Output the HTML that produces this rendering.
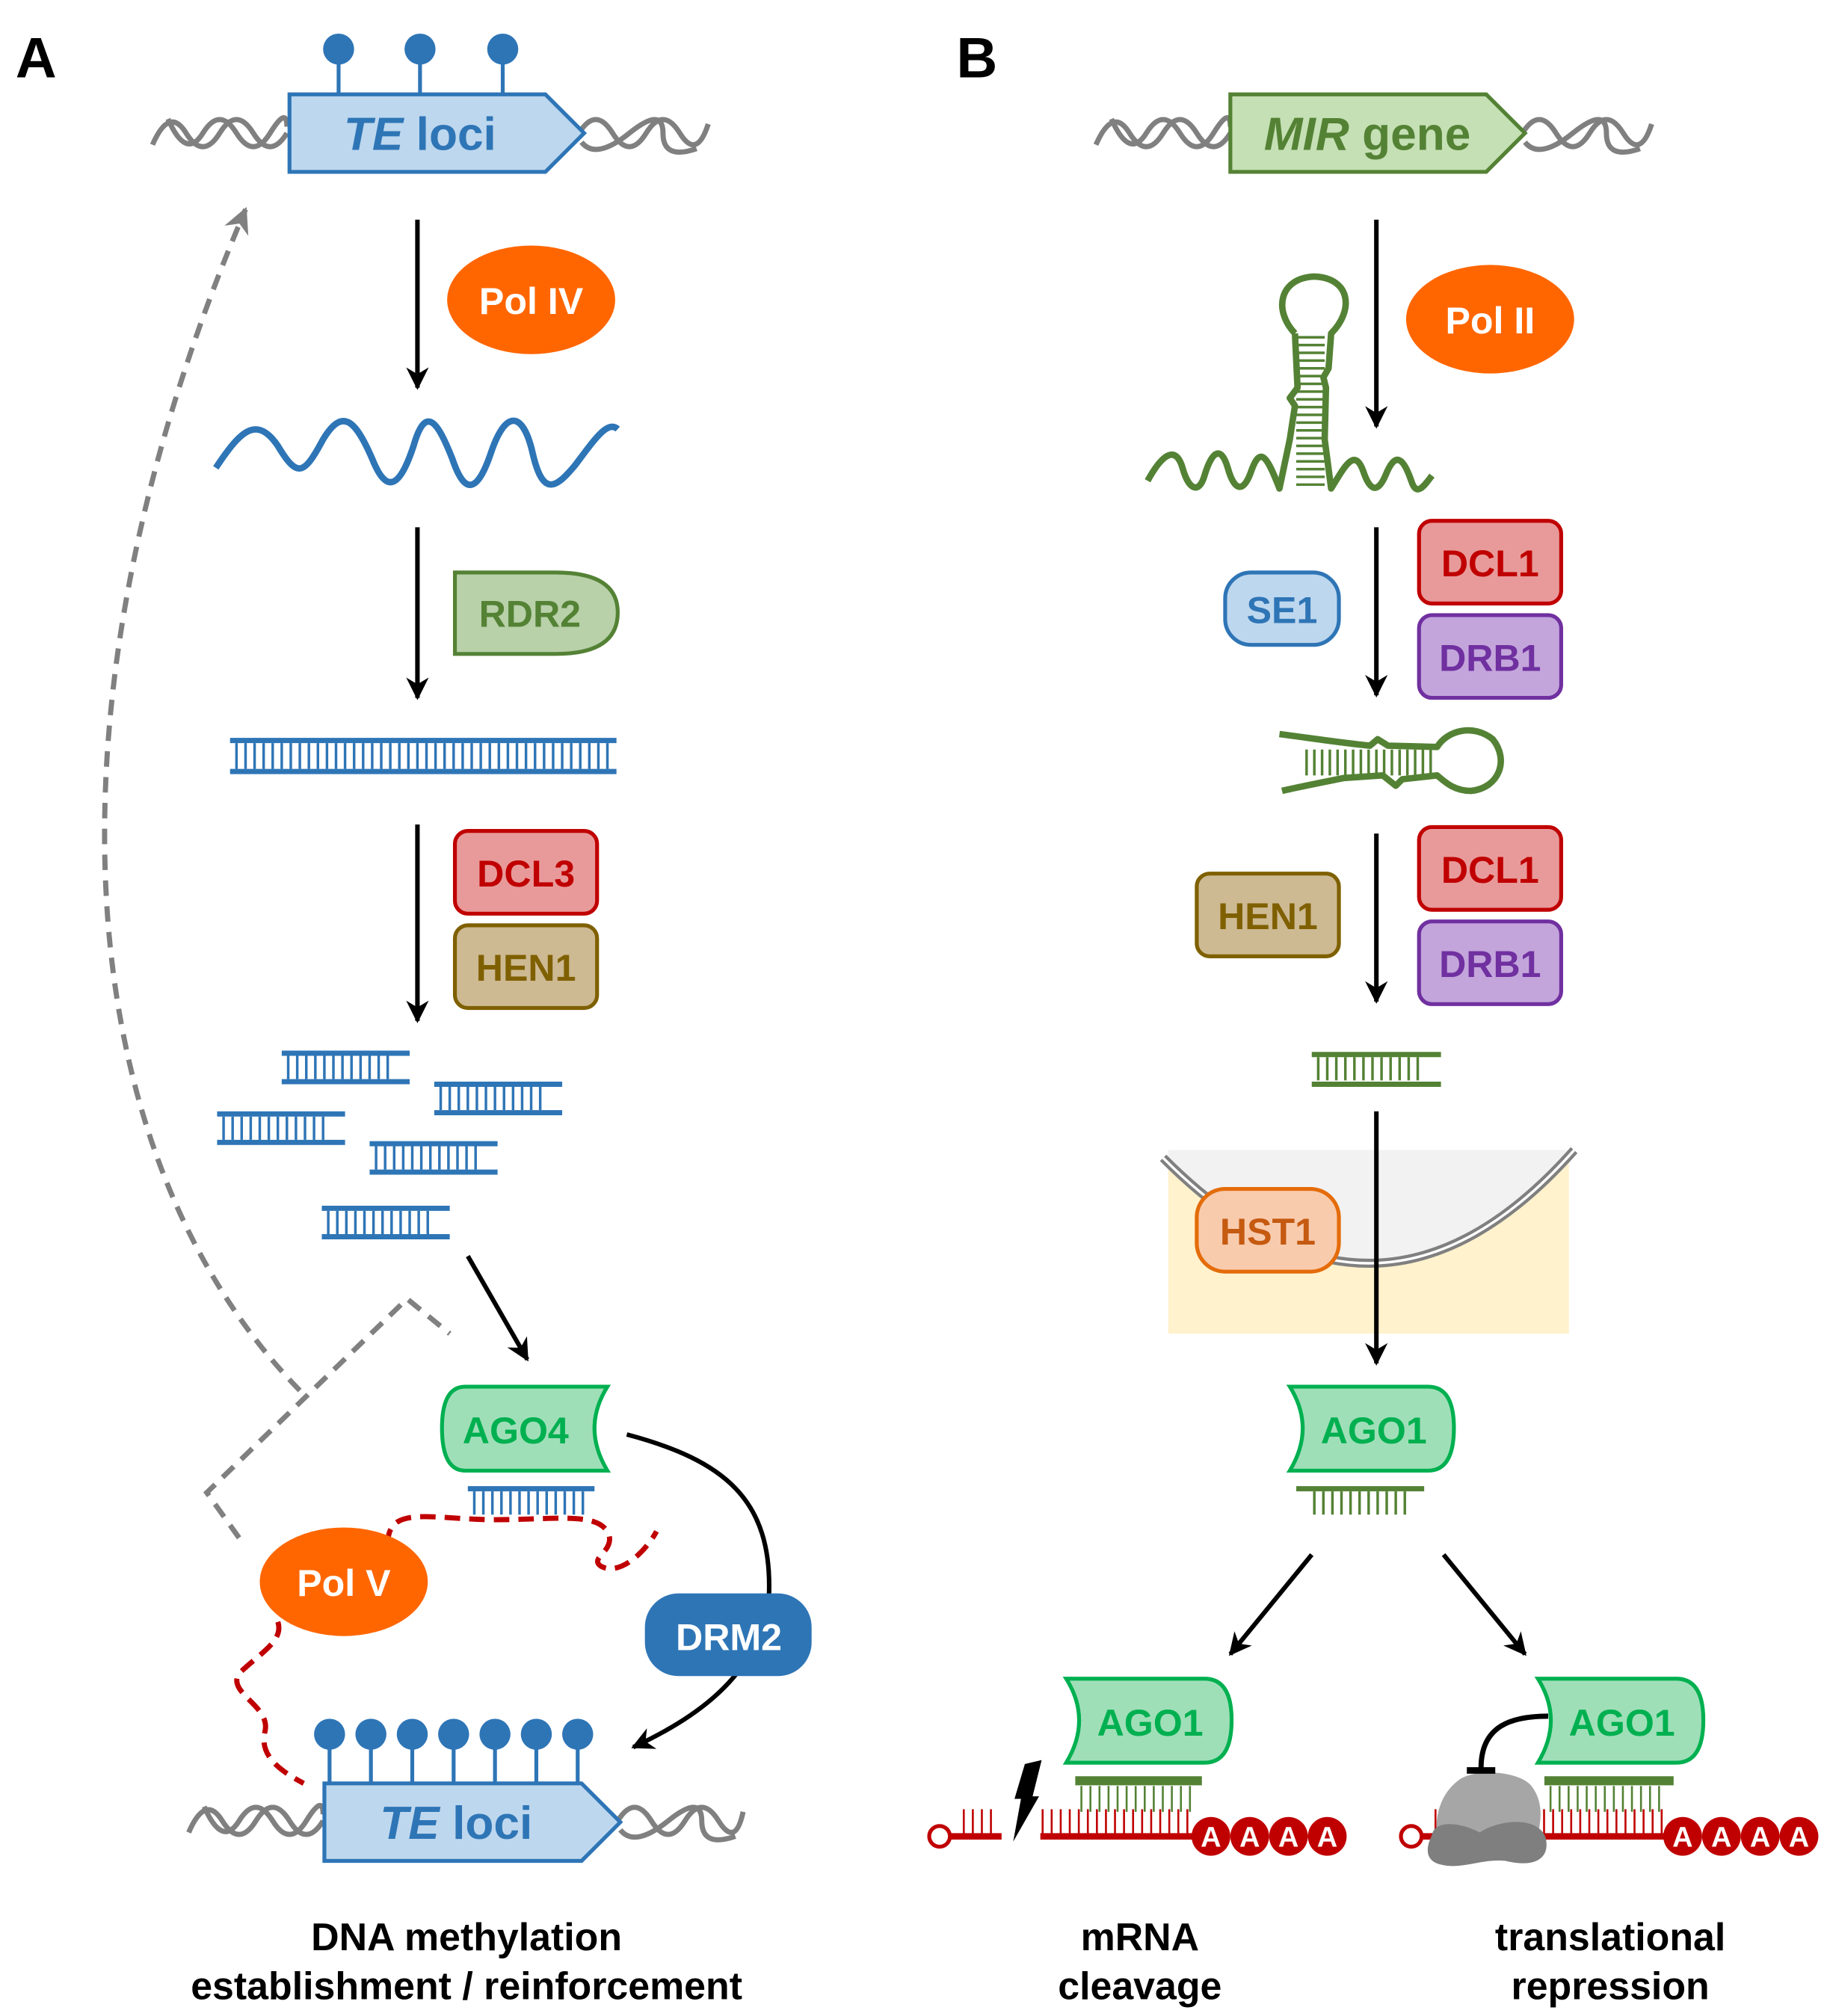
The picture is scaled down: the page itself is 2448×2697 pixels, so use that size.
<!DOCTYPE html>
<html><head><meta charset="utf-8"><style>
html,body{margin:0;padding:0;background:#fff}
svg{display:block}
text{font-family:"Liberation Sans",sans-serif;font-weight:bold}
</style></head><body>
<svg width="2448" height="2697" viewBox="0 0 1416 1560" xmlns="http://www.w3.org/2000/svg">
<defs>
<marker id="ah" viewBox="0 0 10 10" refX="9" refY="5" markerWidth="5" markerHeight="5" orient="auto"><path d="M0,0 L10,5 L0,10 L3,5 Z" fill="#000"/></marker>
<marker id="ahg" viewBox="0 0 10 10" refX="9" refY="5" markerWidth="5" markerHeight="5" orient="auto"><path d="M0,0 L10,5 L0,10 L3,5 Z" fill="#808080"/></marker>
</defs>
<rect width="1416" height="1560" fill="#fff"/>

<!-- ===== Panel A ===== -->
<text x="12" y="60" font-size="44">A</text>
<g stroke="#808080" stroke-width="4" fill="none">
<path d="M118,112 Q131,82 144,103 T170,103 T196,103 T222,103"/>
<path d="M130,92 Q144,124 157,103 T183,103 T209,103 T222,98"/>
<path d="M448,103 Q461,82 474,103 T500,103 T526,103 T548,96"/>
<path d="M450,110 Q461,124 487,103 T513,103 T539,115"/>
<path d="M146,1418 Q159,1388 172,1409 T198,1409 T224,1409 T250,1409"/>
<path d="M158,1398 Q172,1430 185,1409 T211,1409 T237,1409 T250,1404"/>
<path d="M478,1409 Q491,1388 504,1409 T530,1409 T556,1409 T575,1402"/>
<path d="M480,1416 Q491,1430 517,1409 T543,1409 T569,1421"/>
</g>
<g stroke="#2e75b6" stroke-width="3"><line x1="262" y1="40" x2="262" y2="73"/><line x1="325" y1="40" x2="325" y2="73"/><line x1="389" y1="40" x2="389" y2="73"/></g>
<g fill="#2e75b6"><circle cx="262" cy="38" r="12"/><circle cx="325" cy="38" r="12"/><circle cx="389" cy="38" r="12"/></g>
<polygon points="224,73 422,73 452,103 422,133 224,133" fill="#bdd7ee" stroke="#2e75b6" stroke-width="3"/>
<text x="325" y="116" font-size="36" fill="#2e75b6" text-anchor="middle" font-weight="normal"><tspan font-style="italic">TE</tspan> loci</text>

<g stroke="#000" stroke-width="3.5" marker-end="url(#ah)">
<line x1="323" y1="170" x2="323" y2="300"/>
<line x1="323" y1="408" x2="323" y2="540"/>
<line x1="323" y1="638" x2="323" y2="790"/>
<line x1="362" y1="972" x2="408" y2="1052"/>
</g>
<ellipse cx="411" cy="232" rx="65" ry="42" fill="#ff6600"/>
<text x="411" y="243" font-size="29" fill="#fff" text-anchor="middle">Pol IV</text>
<path d="M167,362 C185,335 198,320 215,345 C230,370 235,368 250,340 C265,315 275,325 288,355 C300,385 310,375 320,345 C330,310 340,330 350,355 C360,385 370,380 380,350 C392,315 405,320 412,350 C420,385 430,378 445,360 C460,340 470,325 478,332" fill="none" stroke="#2e75b6" stroke-width="5"/>
<path d="M352,443 L430,443 Q478,443 478,474 Q478,506 430,506 L352,506 Z" fill="#b8d1a9" stroke="#548235" stroke-width="3"/>
<text x="410" y="485" font-size="29" fill="#548235" text-anchor="middle">RDR2</text>
<g stroke="#2e75b6">
<line x1="178" y1="573" x2="477" y2="573" stroke-width="4"/>
<line x1="178" y1="597" x2="477" y2="597" stroke-width="4"/>
<line x1="182" y1="585" x2="474" y2="585" stroke-width="20" stroke-dasharray="2 5"/>
</g>
<rect x="352" y="643" width="110" height="64" rx="10" fill="#e89a9a" stroke="#c00000" stroke-width="3"/>
<text x="407" y="686" font-size="29" fill="#c00000" text-anchor="middle">DCL3</text>
<rect x="352" y="716" width="110" height="64" rx="10" fill="#cdb992" stroke="#7f6000" stroke-width="3"/>
<text x="407" y="759" font-size="29" fill="#7f6000" text-anchor="middle">HEN1</text>
<g stroke="#2e75b6">
<g transform="translate(218,815)"><line x1="0" y1="0" x2="99" y2="0" stroke-width="4"/><line x1="0" y1="22" x2="99" y2="22" stroke-width="4"/><line x1="4" y1="11" x2="84" y2="11" stroke-width="18" stroke-dasharray="2 5"/></g>
<g transform="translate(336,839)"><line x1="0" y1="0" x2="99" y2="0" stroke-width="4"/><line x1="0" y1="22" x2="99" y2="22" stroke-width="4"/><line x1="4" y1="11" x2="84" y2="11" stroke-width="18" stroke-dasharray="2 5"/></g>
<g transform="translate(168,862)"><line x1="0" y1="0" x2="99" y2="0" stroke-width="4"/><line x1="0" y1="22" x2="99" y2="22" stroke-width="4"/><line x1="4" y1="11" x2="84" y2="11" stroke-width="18" stroke-dasharray="2 5"/></g>
<g transform="translate(286,885)"><line x1="0" y1="0" x2="99" y2="0" stroke-width="4"/><line x1="0" y1="22" x2="99" y2="22" stroke-width="4"/><line x1="4" y1="11" x2="84" y2="11" stroke-width="18" stroke-dasharray="2 5"/></g>
<g transform="translate(249,935)"><line x1="0" y1="0" x2="99" y2="0" stroke-width="4"/><line x1="0" y1="22" x2="99" y2="22" stroke-width="4"/><line x1="4" y1="11" x2="84" y2="11" stroke-width="18" stroke-dasharray="2 5"/></g>
</g>
<g fill="none" stroke="#808080" stroke-width="4" stroke-dasharray="12 8">
<path d="M232,1076 C60,900 20,560 190,162" marker-end="url(#ahg)"/>
<path d="M185,1190 L160,1155 L315,1005 L348,1032"/>
</g>
<path d="M360,1073 L470,1073 Q450,1105 470,1138 L360,1138 Q342,1138 342,1105 Q342,1073 360,1073 Z" fill="#9fdfb8" stroke="#00b050" stroke-width="3"/>
<text x="399" y="1117" font-size="29" fill="#00b050" text-anchor="middle">AGO4</text>
<g stroke="#2e75b6"><line x1="362" y1="1152" x2="460" y2="1152" stroke-width="4"/><line x1="366" y1="1163" x2="456" y2="1163" stroke-width="18" stroke-dasharray="2 5"/></g>
<g fill="none" stroke="#c00000" stroke-width="4" stroke-dasharray="12 7">
<path d="M300,1195 C300,1165 330,1175 380,1176 C430,1176 460,1170 470,1185 C478,1200 455,1205 465,1212 C480,1220 500,1200 508,1185"/>
<path d="M215,1255 C220,1270 200,1280 185,1295 C175,1310 210,1320 205,1340 C200,1360 220,1372 235,1380"/>
</g>
<ellipse cx="266" cy="1224" rx="65" ry="42" fill="#ff6600"/>
<text x="266" y="1235" font-size="29" fill="#fff" text-anchor="middle">Pol V</text>
<path d="M485,1110 C560,1130 598,1160 595,1235" fill="none" stroke="#000" stroke-width="3.5"/>
<path d="M570,1295 C550,1320 520,1338 490,1352" fill="none" stroke="#000" stroke-width="3.5" marker-end="url(#ah)"/>
<rect x="499" y="1233" width="129" height="64" rx="26" fill="#2e75b6"/>
<text x="564" y="1277" font-size="29" fill="#fff" text-anchor="middle">DRM2</text>
<g stroke="#2e75b6" stroke-width="3">
<line x1="255" y1="1342" x2="255" y2="1380"/><line x1="287" y1="1342" x2="287" y2="1380"/><line x1="319" y1="1342" x2="319" y2="1380"/><line x1="351" y1="1342" x2="351" y2="1380"/><line x1="383" y1="1342" x2="383" y2="1380"/><line x1="415" y1="1342" x2="415" y2="1380"/><line x1="447" y1="1342" x2="447" y2="1380"/></g>
<g fill="#2e75b6"><circle cx="255" cy="1342" r="12"/><circle cx="287" cy="1342" r="12"/><circle cx="319" cy="1342" r="12"/><circle cx="351" cy="1342" r="12"/><circle cx="383" cy="1342" r="12"/><circle cx="415" cy="1342" r="12"/><circle cx="447" cy="1342" r="12"/></g>
<polygon points="251,1380 450,1380 480,1410 450,1440 251,1440" fill="#bdd7ee" stroke="#2e75b6" stroke-width="3"/>
<text x="353" y="1423" font-size="36" fill="#2e75b6" text-anchor="middle" font-weight="normal"><tspan font-style="italic">TE</tspan> loci</text>
<text x="361" y="1509" font-size="30" text-anchor="middle">DNA methylation</text>
<text x="361" y="1547" font-size="30" text-anchor="middle">establishment / reinforcement</text>

<!-- ===== Panel B ===== -->
<text x="740" y="60" font-size="44">B</text>
<g stroke="#808080" stroke-width="4" fill="none">
<path d="M848,112 Q861,82 874,103 T900,103 T926,103 T952,103"/>
<path d="M860,92 Q874,124 887,103 T913,103 T939,103 T952,98"/>
<path d="M1178,103 Q1191,82 1204,103 T1230,103 T1256,103 T1278,96"/>
<path d="M1180,110 Q1191,124 1217,103 T1243,103 T1269,115"/>
</g>
<polygon points="952,73 1150,73 1180,103 1150,133 952,133" fill="#c5e0b4" stroke="#548235" stroke-width="3"/>
<text x="1058" y="116" font-size="36" fill="#548235" text-anchor="middle" font-weight="normal"><tspan font-style="italic">MIR</tspan> gene</text>
<g stroke="#000" stroke-width="3.5" marker-end="url(#ah)">
<line x1="1065" y1="170" x2="1065" y2="330"/>
<line x1="1065" y1="408" x2="1065" y2="538"/>
<line x1="1065" y1="645" x2="1065" y2="775"/>
<line x1="1015" y1="1203" x2="952" y2="1280"/>
<line x1="1117" y1="1203" x2="1180" y2="1280"/>
</g>
<ellipse cx="1153" cy="247" rx="65" ry="42" fill="#ff6600"/>
<text x="1153" y="258" font-size="29" fill="#fff" text-anchor="middle">Pol II</text>
<g fill="none" stroke="#548235" stroke-width="5" stroke-linejoin="round">
<path d="M1002,258 C985,240 990,215 1017,214 C1045,215 1048,240 1030,258 L1028,285 L1024,292 L1026,300 L1025,340 L1030,378 C1040,362 1048,345 1055,365 C1060,380 1066,382 1072,368 C1080,348 1086,355 1092,372 C1096,385 1102,376 1108,368"/>
<path d="M1002,258 L1004,300 L998,308 L1002,314 L998,340 L990,378 C980,352 975,345 968,365 C962,382 955,380 950,362 C945,345 938,348 932,368 C928,382 920,380 915,362 C910,345 900,350 888,372"/>
</g>
<line x1="1014" y1="260" x2="1014" y2="376" stroke="#548235" stroke-width="22" stroke-dasharray="2 4"/>
<rect x="948" y="443" width="88" height="56" rx="20" fill="#bdd7ee" stroke="#2e75b6" stroke-width="3"/>
<text x="992" y="482" font-size="29" fill="#2e75b6" text-anchor="middle">SE1</text>
<rect x="1098" y="403" width="110" height="64" rx="10" fill="#e89a9a" stroke="#c00000" stroke-width="3"/>
<text x="1153" y="446" font-size="29" fill="#c00000" text-anchor="middle">DCL1</text>
<rect x="1098" y="476" width="110" height="64" rx="10" fill="#c3a5db" stroke="#7030a0" stroke-width="3"/>
<text x="1153" y="519" font-size="29" fill="#7030a0" text-anchor="middle">DRB1</text>
<g fill="none" stroke="#548235" stroke-width="5" stroke-linejoin="round">
<path d="M990,568 C1020,572 1040,575 1060,577 L1066,572 L1074,577 L1112,578 C1120,565 1140,560 1155,572 C1168,588 1160,610 1138,612 C1125,612 1118,605 1112,600 L1085,603 L1080,608 L1070,600 L1040,602 C1020,606 1000,610 992,612"/>
</g>
<line x1="1010" y1="590" x2="1110" y2="590" stroke="#548235" stroke-width="20" stroke-dasharray="2 4"/>
<rect x="926" y="676" width="110" height="64" rx="10" fill="#cdb992" stroke="#7f6000" stroke-width="3"/>
<text x="981" y="719" font-size="29" fill="#7f6000" text-anchor="middle">HEN1</text>
<rect x="1098" y="640" width="110" height="64" rx="10" fill="#e89a9a" stroke="#c00000" stroke-width="3"/>
<text x="1153" y="683" font-size="29" fill="#c00000" text-anchor="middle">DCL1</text>
<rect x="1098" y="713" width="110" height="64" rx="10" fill="#c3a5db" stroke="#7030a0" stroke-width="3"/>
<text x="1153" y="756" font-size="29" fill="#7030a0" text-anchor="middle">DRB1</text>
<g stroke="#548235"><line x1="1015" y1="816" x2="1115" y2="816" stroke-width="4"/><line x1="1015" y1="839" x2="1115" y2="839" stroke-width="4"/><line x1="1019" y1="827" x2="1100" y2="827" stroke-width="18" stroke-dasharray="2 5"/></g>
<rect x="904" y="890" width="310" height="142" fill="#fff2cc"/>
<path d="M904,890 L1214,890 L1214,895 Q1065,1060 904,895 Z" fill="#f2f2f2"/>
<path d="M900,896 Q1065,1062 1218,890" fill="none" stroke="#808080" stroke-width="7"/>
<path d="M900,896 Q1065,1062 1218,890" fill="none" stroke="#fff" stroke-width="2"/>
<line x1="1065" y1="860" x2="1065" y2="1055" stroke="#000" stroke-width="3.5" marker-end="url(#ah)"/>
<rect x="926" y="920" width="110" height="64" rx="22" fill="#f8cbad" stroke="#e46c0a" stroke-width="3"/>
<text x="981" y="963" font-size="29" fill="#c55a11" text-anchor="middle">HST1</text>
<path d="M998,1073 L1105,1073 Q1125,1073 1125,1105 Q1125,1138 1105,1138 L998,1138 Q1018,1105 998,1073 Z" fill="#9fdfb8" stroke="#00b050" stroke-width="3"/>
<text x="1063" y="1117" font-size="29" fill="#00b050" text-anchor="middle">AGO1</text>
<g stroke="#548235"><line x1="1003" y1="1152" x2="1102" y2="1152" stroke-width="4"/><line x1="1016" y1="1163" x2="1092" y2="1163" stroke-width="18" stroke-dasharray="2 5"/></g>
<path d="M825,1299 L932,1299 Q953,1299 953,1331 Q953,1364 932,1364 L825,1364 Q845,1331 825,1299 Z" fill="#9fdfb8" stroke="#00b050" stroke-width="3"/>
<text x="890" y="1343" font-size="29" fill="#00b050" text-anchor="middle">AGO1</text>
<line x1="832" y1="1378" x2="930" y2="1378" stroke="#548235" stroke-width="7"/>
<line x1="836" y1="1392" x2="925" y2="1392" stroke="#548235" stroke-width="20" stroke-dasharray="1.5 5.5"/>
<line x1="806" y1="1410" x2="925" y2="1410" stroke="#c00000" stroke-width="20" stroke-dasharray="1.5 5.5"/>
<line x1="745" y1="1410" x2="772" y2="1410" stroke="#c00000" stroke-width="20" stroke-dasharray="1.5 5.5"/>
<line x1="736" y1="1421" x2="775" y2="1421" stroke="#c00000" stroke-width="5"/>
<line x1="805" y1="1421" x2="935" y2="1421" stroke="#c00000" stroke-width="5"/>
<circle cx="727" cy="1421" r="8" fill="#fff" stroke="#c00000" stroke-width="3"/>
<polygon points="793,1365 806,1362 799,1390 804,1390 784,1425 790,1392 785,1392" fill="#000"/>
<g fill="#c00000"><circle cx="937" cy="1421" r="15"/><circle cx="967" cy="1421" r="15"/><circle cx="997" cy="1421" r="15"/><circle cx="1027" cy="1421" r="15"/></g>
<g font-size="22" fill="#fff" text-anchor="middle"><text x="937" y="1429">A</text><text x="967" y="1429">A</text><text x="997" y="1429">A</text><text x="1027" y="1429">A</text></g>
<path d="M1190,1299 L1297,1299 Q1318,1299 1318,1331 Q1318,1364 1297,1364 L1190,1364 Q1210,1331 1190,1299 Z" fill="#9fdfb8" stroke="#00b050" stroke-width="3"/>
<text x="1255" y="1343" font-size="29" fill="#00b050" text-anchor="middle">AGO1</text>
<line x1="1195" y1="1378" x2="1295" y2="1378" stroke="#548235" stroke-width="7"/>
<line x1="1199" y1="1392" x2="1290" y2="1392" stroke="#548235" stroke-width="20" stroke-dasharray="1.5 5.5"/>
<line x1="1110" y1="1410" x2="1290" y2="1410" stroke="#c00000" stroke-width="20" stroke-dasharray="1.5 5.5"/>
<line x1="1100" y1="1421" x2="1300" y2="1421" stroke="#c00000" stroke-width="5"/>
<circle cx="1092" cy="1421" r="8" fill="#fff" stroke="#c00000" stroke-width="3"/>
<path d="M1128,1378 C1140,1368 1175,1370 1185,1382 C1195,1395 1192,1410 1190,1420 L1112,1420 C1110,1405 1115,1388 1128,1378 Z" fill="#a6a6a6"/>
<path d="M1108,1420 C1110,1408 1130,1410 1145,1418 C1160,1408 1190,1405 1196,1422 C1200,1440 1185,1445 1165,1440 C1145,1438 1130,1448 1112,1442 C1102,1438 1104,1428 1108,1420 Z" fill="#7f7f7f"/>
<path d="M1198,1328 C1170,1328 1146,1335 1146,1368" fill="none" stroke="#000" stroke-width="4"/>
<line x1="1135" y1="1370" x2="1157" y2="1370" stroke="#000" stroke-width="5"/>
<g fill="#c00000"><circle cx="1302" cy="1421" r="15"/><circle cx="1332" cy="1421" r="15"/><circle cx="1362" cy="1421" r="15"/><circle cx="1392" cy="1421" r="15"/></g>
<g font-size="22" fill="#fff" text-anchor="middle"><text x="1302" y="1429">A</text><text x="1332" y="1429">A</text><text x="1362" y="1429">A</text><text x="1392" y="1429">A</text></g>
<text x="882" y="1509" font-size="30" text-anchor="middle">mRNA</text>
<text x="882" y="1547" font-size="30" text-anchor="middle">cleavage</text>
<text x="1246" y="1509" font-size="30" text-anchor="middle">translational</text>
<text x="1246" y="1547" font-size="30" text-anchor="middle">repression</text>
</svg>
</body></html>
